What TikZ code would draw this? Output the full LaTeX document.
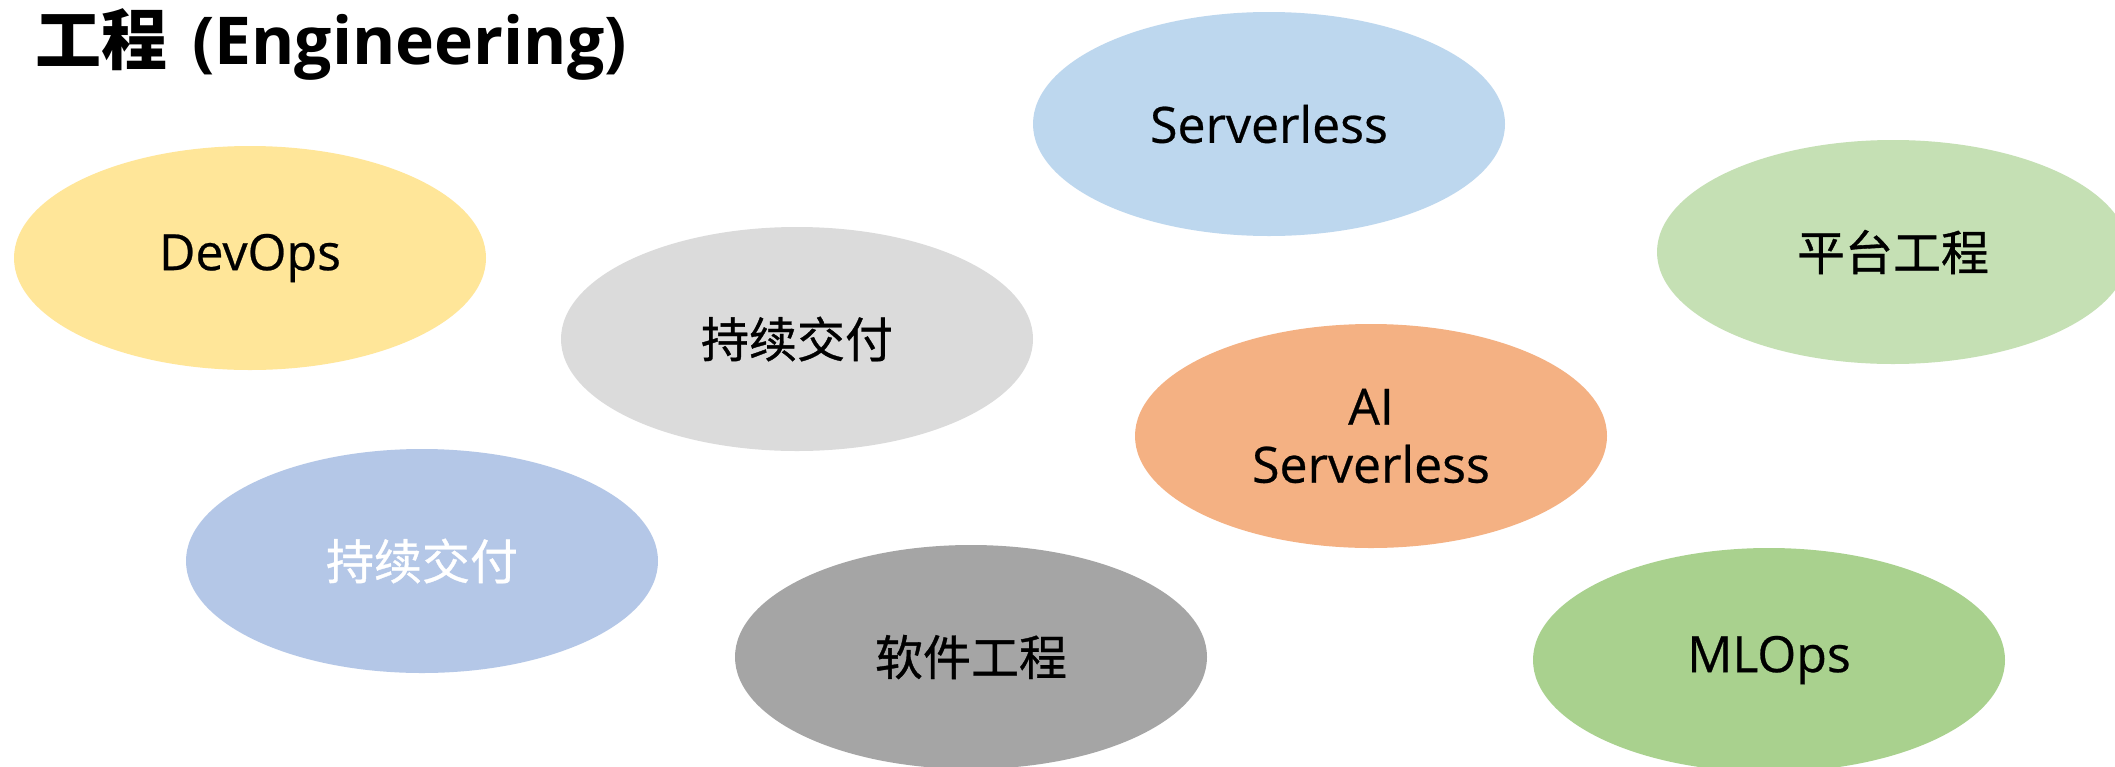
\documentclass[tikz,border=0pt]{standalone}
\usepackage{fontspec}
\setmainfont{Open Sans}
\newfontfamily\latlab[FakeBold=0.5]{Open Sans}
\newfontfamily\cjk{Noto Sans CJK SC}
\newfontfamily\cjklab[FakeBold=0.7]{Noto Sans CJK SC}
\usetikzlibrary{shapes.geometric}
\definecolor{cYellow}{HTML}{FFE699}
\definecolor{cLightGray}{HTML}{DBDBDB}
\definecolor{cSky}{HTML}{BDD7EE}
\definecolor{cPaleGreen}{HTML}{C5E0B4}
\definecolor{cOrange}{HTML}{F4B183}
\definecolor{cPeri}{HTML}{B4C7E7}
\definecolor{cGray}{HTML}{A5A5A5}
\definecolor{cGreen}{HTML}{A9D18E}
\tikzset{
  blob/.style={ellipse, draw=none, minimum width=472pt, minimum height=224pt,
    inner sep=0pt, align=center},
  latin/.style={font=\fontsize{50}{58}\selectfont\latlab},
  hanzi/.style={font=\fontsize{48}{58}\selectfont\cjklab},
}
\begin{document}
\begin{tikzpicture}[x=1pt,y=-1pt]
\useasboundingbox[fill=white] (0,0) rectangle (2115,766);
% title
\node[anchor=base west, inner sep=0pt, font=\fontsize{66}{76}\selectfont\bfseries] (title) at (35,64)
  {{\cjk 工程}\hspace{0.12em} (Engineering)};
% topic ellipses
\node[blob, latin, fill=cYellow]    (devops) at (250,258)  {DevOps};
\node[blob, hanzi, fill=cLightGray] (cd1)    at (797,339)  {持续交付};
\node[blob, latin, fill=cSky]       (sls)    at (1269,124) {Serverless};
\node[blob, hanzi, fill=cPaleGreen] (pe)     at (1893,252) {平台工程};
\node[blob, latin, fill=cOrange]    (aisls)  at (1371,436) {AI\\Serverless};
\node[blob, hanzi, fill=cPeri, text=white] (cd2) at (422,561) {持续交付};
\node[blob, hanzi, fill=cGray]      (se)     at (971,657)  {软件工程};
\node[blob, latin, fill=cGreen]     (mlops)  at (1769,660) {MLOps};
\end{tikzpicture}
\end{document}
